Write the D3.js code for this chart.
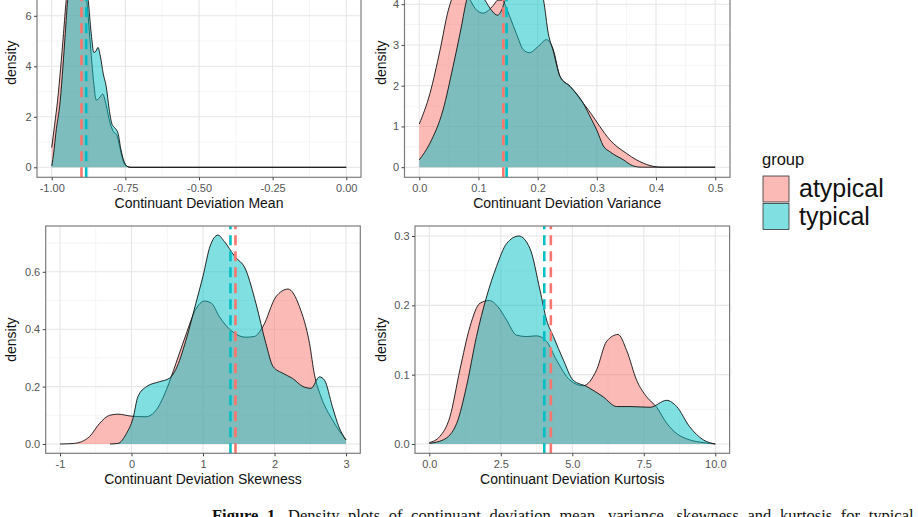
<!DOCTYPE html>
<html>
<head>
<meta charset="utf-8">
<script src="https://cdn.jsdelivr.net/npm/d3@7"></script>
<style>
html,body{margin:0;padding:0;background:#fff;}
svg{display:block;}
</style>
</head>
<body>
<svg id="chart" width="918" height="517"></svg>
<script>
// ---------- data ----------
const groups = ["atypical", "typical"];
const groupColors = ["#F8766D", "#00BFC4"];

// Continuant Deviation Mean  [x, density]
const meanAtypical = [[-1.0,0.78],[-0.99,1.7],[-0.98,2.66],[-0.97,3.9],[-0.96,5.3],[-0.951,6.6],[-0.935,7.7],[-0.915,8.1],[-0.9,7.8],[-0.881,6.6],[-0.867,4.6],[-0.857,3.3],[-0.849,2.66],[-0.838,2.75],[-0.827,2.9],[-0.815,2.45],[-0.803,1.8],[-0.79,1.4],[-0.78,1.3],[-0.768,0.75],[-0.756,0.2],[-0.745,0.04],[-0.73,0.0],[0.0,0.0]];
const meanTypical = [[-1.0,0.05],[-0.993,0.6],[-0.986,1.35],[-0.971,2.66],[-0.962,3.98],[-0.954,5.3],[-0.946,6.6],[-0.93,7.5],[-0.91,7.8],[-0.89,7.4],[-0.876,6.6],[-0.866,5.3],[-0.857,4.55],[-0.85,4.6],[-0.843,4.75],[-0.835,4.4],[-0.825,3.7],[-0.815,3.2],[-0.805,2.3],[-0.795,1.7],[-0.785,1.55],[-0.775,1.35],[-0.765,0.7],[-0.755,0.25],[-0.745,0.05],[-0.735,0.0],[0.0,0.0]];

// Continuant Deviation Variance
const varAtypical = [[0.0,1.06],[0.018,1.81],[0.035,2.87],[0.049,3.85],[0.06,4.3],[0.072,4.45],[0.086,4.1],[0.097,3.85],[0.108,3.78],[0.117,3.85],[0.125,3.97],[0.133,4.1],[0.14,4.1],[0.146,3.95],[0.153,3.69],[0.164,3.28],[0.176,2.88],[0.186,2.81],[0.2,2.95],[0.215,3.13],[0.226,2.9],[0.238,2.22],[0.255,1.98],[0.277,1.57],[0.29,1.32],[0.305,1.0],[0.322,0.67],[0.35,0.34],[0.367,0.18],[0.39,0.04],[0.41,0.0],[0.5,0.0]];
const varTypical = [[0.0,0.18],[0.018,0.59],[0.04,1.4],[0.057,2.47],[0.071,3.44],[0.08,4.1],[0.09,4.4],[0.1,4.35],[0.111,4.1],[0.122,3.85],[0.132,3.73],[0.139,3.85],[0.145,4.1],[0.16,4.6],[0.178,4.95],[0.195,4.7],[0.21,4.1],[0.218,3.28],[0.226,2.87],[0.238,2.22],[0.255,1.98],[0.277,1.57],[0.29,1.2],[0.3,0.91],[0.311,0.52],[0.322,0.38],[0.345,0.18],[0.36,0.04],[0.375,0.0],[0.5,0.0]];

// Continuant Deviation Skewness
const skewAtypical = [[-1.0,0.0],[-0.8,0.002],[-0.7,0.008],[-0.586,0.026],[-0.446,0.072],[-0.306,0.1],[-0.19,0.104],[0.0,0.097],[0.2,0.095],[0.35,0.12],[0.49,0.19],[0.62,0.28],[0.76,0.38],[0.9,0.47],[1.02,0.498],[1.12,0.49],[1.23,0.443],[1.42,0.39],[1.6,0.372],[1.72,0.375],[1.84,0.41],[2.02,0.513],[2.19,0.54],[2.35,0.478],[2.49,0.35],[2.56,0.24],[2.65,0.165],[2.81,0.084],[3.0,0.014]];
const skewTypical = [[-0.3,0.0],[-0.19,0.002],[-0.07,0.037],[0.02,0.089],[0.09,0.165],[0.21,0.2],[0.39,0.217],[0.53,0.229],[0.62,0.26],[0.76,0.36],[0.9,0.49],[1.0,0.585],[1.1,0.69],[1.21,0.728],[1.3,0.705],[1.44,0.655],[1.6,0.606],[1.74,0.49],[1.88,0.35],[1.98,0.27],[2.12,0.246],[2.25,0.229],[2.4,0.2],[2.51,0.194],[2.63,0.234],[2.7,0.222],[2.81,0.13],[2.9,0.06],[3.0,0.014]];

// Continuant Deviation Kurtosis
const kurtAtypical = [[0.0,0.002],[0.37,0.011],[0.72,0.039],[1.07,0.107],[1.42,0.169],[1.77,0.203],[2.1,0.207],[2.4,0.198],[2.7,0.179],[3.05,0.157],[3.4,0.155],[3.75,0.156],[4.1,0.148],[4.45,0.121],[4.92,0.092],[5.38,0.084],[5.85,0.107],[6.2,0.148],[6.6,0.158],[6.9,0.135],[7.25,0.092],[7.6,0.068],[7.95,0.053],[8.3,0.03],[8.65,0.015],[9.1,0.006],[9.58,0.002],[10.0,0.0]];
const kurtTypical = [[0.0,0.001],[0.49,0.006],[0.96,0.03],[1.3,0.083],[1.65,0.155],[2.0,0.212],[2.35,0.256],[2.7,0.289],[3.13,0.3],[3.52,0.282],[3.87,0.222],[4.1,0.179],[4.34,0.155],[4.69,0.121],[5.03,0.092],[5.5,0.083],[6.08,0.068],[6.55,0.054],[7.02,0.054],[7.72,0.053],[8.3,0.063],[8.65,0.054],[9.1,0.025],[9.58,0.006],[10.0,0.0]];

// group means (dashed lines): [atypical, typical]
const meanMeans = [-0.899, -0.883];
const varMeans = [0.142, 0.1475];
const skewMeans = [1.454, 1.384];
const kurtMeans = [4.25, 4.02];

// ticks
const meanXTicks = [-1.0, -0.75, -0.5, -0.25, 0.0];
const meanXLabels = ["-1.00", "-0.75", "-0.50", "-0.25", "0.00"];
const meanYTicks = [0, 2, 4, 6];
const meanYLabels = ["0", "2", "4", "6"];
const varXTicks = [0, 0.1, 0.2, 0.3, 0.4, 0.5];
const varXLabels = ["0.0", "0.1", "0.2", "0.3", "0.4", "0.5"];
const varYTicks = [0, 1, 2, 3, 4];
const varYLabels = ["0", "1", "2", "3", "4"];
const skewXTicks = [-1, 0, 1, 2, 3];
const skewXLabels = ["-1", "0", "1", "2", "3"];
const skewYTicks = [0, 0.2, 0.4, 0.6];
const skewYLabels = ["0.0", "0.2", "0.4", "0.6"];
const kurtXTicks = [0, 2.5, 5, 7.5, 10];
const kurtXLabels = ["0.0", "2.5", "5.0", "7.5", "10.0"];
const kurtYTicks = [0, 0.1, 0.2, 0.3];
const kurtYLabels = ["0.0", "0.1", "0.2", "0.3"];

const xTitles = ["Continuant Deviation Mean", "Continuant Deviation Variance", "Continuant Deviation Skewness", "Continuant Deviation Kurtosis"];
const yTitle = "density";
const legendTitle = "group";
const captionBold = "Figure 1.";
const captionText = " Density plots of continuant deviation mean, variance, skewness and kurtosis for typical";

// ---------- layout ----------
const panels = [
  {box:[37,361,-52,177.3], xd:[-1.05,0.05], y0:167.3, yUnit:25.25, xT:meanXTicks, xL:meanXLabels, yT:meanYTicks, yL:meanYLabels, series:[meanAtypical, meanTypical], means:meanMeans, title:xTitles[0], ylabX:16},
  {box:[404.5,730,-52,177.3], xd:[-0.025,0.525], y0:167.2, yUnit:40.75, xT:varXTicks, xL:varXLabels, yT:varYTicks, yL:varYLabels, series:[varAtypical, varTypical], means:varMeans, title:xTitles[1], ylabX:386},
  {box:[45.7,360.3,226,453.3], xd:[-1.2,3.2], y0:444, yUnit:287, xT:skewXTicks, xL:skewXLabels, yT:skewYTicks, yL:skewYLabels, series:[skewAtypical, skewTypical], means:skewMeans, title:xTitles[2], ylabX:16},
  {box:[415,729.6,226,453.3], xd:[-0.5,10.5], y0:444, yUnit:693.3, xT:kurtXTicks, xL:kurtXLabels, yT:kurtYTicks, yL:kurtYLabels, series:[kurtAtypical, kurtTypical], means:kurtMeans, title:xTitles[3], ylabX:386}
];

const svg = d3.select("#chart");
svg.append("rect").attr("width",918).attr("height",517).attr("fill","#fff");
const FONT = "'Liberation Sans', Arial, Helvetica, sans-serif";

function mids(t){ const out=[]; const step=t[1]-t[0]; out.push(t[0]-step/2); for(let i=0;i<t.length-1;i++) out.push((t[i]+t[i+1])/2); out.push(t[t.length-1]+step/2); return out; }

panels.forEach((p, i) => {
  const [L,R,T,B] = p.box;
  const x = d3.scaleLinear().domain(p.xd).range([L,R]);
  const y = d3.scaleLinear().domain([(p.y0-B)/p.yUnit, (p.y0-T)/p.yUnit]).range([B,T]);
  const g = svg.append("g");
  const clipId = "clip"+i;
  svg.append("clipPath").attr("id",clipId).append("rect").attr("x",L).attr("y",T).attr("width",R-L).attr("height",B-T);
  const inner = g.append("g").attr("clip-path",`url(#${clipId})`);

  // grid
  const xd = x.domain(), yd = y.domain();
  const xMinor = mids(p.xT).filter(v=>v>xd[0]&&v<xd[1]);
  const yMinor = mids(p.yT).filter(v=>v>yd[0]&&v<yd[1]);
  inner.selectAll(".gxm").data(xMinor).join("line").attr("x1",d=>x(d)).attr("x2",d=>x(d)).attr("y1",T).attr("y2",B).attr("stroke","#F3F3F3").attr("stroke-width",0.8);
  inner.selectAll(".gym").data(yMinor).join("line").attr("y1",d=>y(d)).attr("y2",d=>y(d)).attr("x1",L).attr("x2",R).attr("stroke","#F3F3F3").attr("stroke-width",0.8);
  inner.selectAll(".gx").data(p.xT).join("line").attr("x1",d=>x(d)).attr("x2",d=>x(d)).attr("y1",T).attr("y2",B).attr("stroke","#E6E6E6").attr("stroke-width",1.1);
  inner.selectAll(".gy").data(p.yT).join("line").attr("y1",d=>y(d)).attr("y2",d=>y(d)).attr("x1",L).attr("x2",R).attr("stroke","#E6E6E6").attr("stroke-width",1.1);

  // densities
  const area = d3.area().x(d=>x(d[0])).y0(y(0)).y1(d=>y(d[1])).curve(d3.curveMonotoneX);
  const line = d3.line().x(d=>x(d[0])).y(d=>y(d[1])).curve(d3.curveMonotoneX);
  p.series.forEach((s, k) => {
    inner.append("path").datum(s).attr("d",area).attr("fill",groupColors[k]).attr("fill-opacity",0.5);
    inner.append("path").datum(s).attr("d",line).attr("fill","none").attr("stroke","#111").attr("stroke-width",0.9);
  });
  // mean lines
  p.means.forEach((m,k) => {
    inner.append("line").attr("x1",x(m)).attr("x2",x(m)).attr("y1",B).attr("y2",T)
      .attr("stroke",groupColors[k]).attr("stroke-width",2.6).attr("stroke-dasharray","10,6");
  });

  // border
  g.append("rect").attr("x",L).attr("y",T).attr("width",R-L).attr("height",B-T).attr("fill","none").attr("stroke","#7d7d7d").attr("stroke-width",1.2);

  // axes
  const ax = d3.axisBottom(x).tickValues(p.xT).tickFormat((d,j)=>p.xL[j]).tickSize(3).tickPadding(4);
  const gx = g.append("g").attr("transform",`translate(0,${B})`).call(ax);
  const ay = d3.axisLeft(y).tickValues(p.yT).tickFormat((d,j)=>p.yL[j]).tickSize(3).tickPadding(2.5);
  const gy = g.append("g").attr("transform",`translate(${L},0)`).call(ay);
  [gx,gy].forEach(a=>{
    a.select(".domain").remove();
    a.selectAll(".tick line").attr("stroke","#444").attr("stroke-width",1);
    a.selectAll(".tick text").attr("fill","#555").attr("font-size",11).attr("font-family",FONT);
  });

  // titles
  g.append("text").attr("x",(L+R)/2).attr("y",B+31).attr("text-anchor","middle")
    .attr("font-family",FONT).attr("font-size",14).attr("fill","#111").text(p.title);
  g.append("text").attr("transform",`translate(${p.ylabX},${(T+B)/2}) rotate(-90)`).attr("text-anchor","middle")
    .attr("font-family",FONT).attr("font-size",14).attr("fill","#111").text(yTitle);
});

// legend
const lg = svg.append("g");
lg.append("text").attr("x",762).attr("y",165).attr("font-family",FONT).attr("font-size",16.5).attr("fill","#111").text(legendTitle);
groups.forEach((gname,k)=>{
  const yy = 176 + k*27.5;
  lg.append("rect").attr("x",763).attr("y",yy).attr("width",26).attr("height",26)
    .attr("fill",groupColors[k]).attr("fill-opacity",0.5).attr("stroke","#333").attr("stroke-width",0.8);
  lg.append("text").attr("x",799).attr("y",yy+21).attr("font-family",FONT).attr("font-size",25).attr("fill","#111").text(gname);
});

// caption (cut off at the bottom of the picture, as in the reference)
const cap = svg.append("text").attr("x",212).attr("y",521).attr("font-family","'Liberation Serif', 'DejaVu Serif', serif")
  .attr("font-size",16.5).attr("word-spacing",4.5).attr("fill","#111");
cap.append("tspan").attr("font-weight","bold").text(captionBold);
cap.append("tspan").text(captionText);
</script>
</body>
</html>
